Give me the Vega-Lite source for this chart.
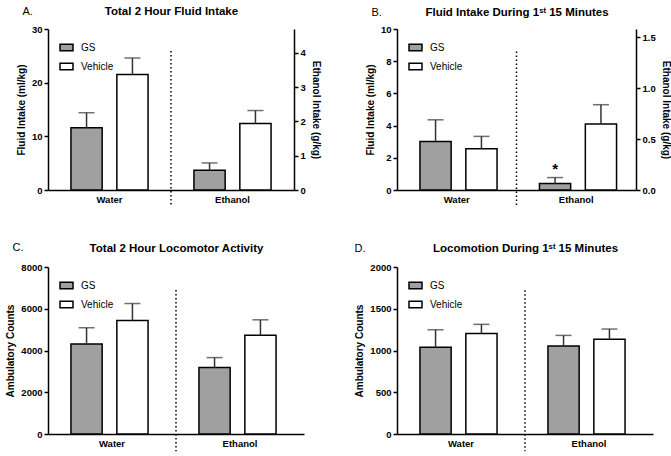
{
  "$schema": "https://vega.github.io/schema/vega-lite/v6.json",
  "padding": {"left": 5, "top": 5, "right": 0, "bottom": 0},
  "config": {
    "font": "Liberation Sans",
    "view": {"stroke": null},
    "axis": {"domainColor": "black", "domainWidth": 1.5, "tickColor": "black", "tickWidth": 1.5, "tickSize": 4, "labelFont": "Liberation Sans", "labelFontWeight": "bold", "labelFontSize": 9.5, "labelColor": "black", "titleFont": "Liberation Sans", "titleFontWeight": "bold", "titleFontSize": 10, "titleColor": "black", "grid": false, "labelPadding": 2, "titlePadding": 5},
    "axisX": {"ticks": false, "labelPadding": 4, "labelAngle": 0, "labelAlign": "center", "labelBaseline": "top"},
    "legend": {"orient": "top-left", "offset": 11, "symbolType": "M-1,-0.5H1V0.5H-1Z", "symbolSize": 169, "symbolStrokeColor": "black", "symbolStrokeWidth": 1.5, "labelFont": "Liberation Sans", "labelFontSize": 10, "labelColor": "black", "rowPadding": 5, "labelOffset": 7, "padding": 0}
  },
  "datasets": {
    "A": [
      {"solution": "Water", "treatment": "GS", "mean": 11.6, "upper": 14.4},
      {"solution": "Water", "treatment": "Vehicle", "mean": 21.5, "upper": 24.6},
      {"solution": "Ethanol", "treatment": "GS", "mean": 0.58, "upper": 0.79},
      {"solution": "Ethanol", "treatment": "Vehicle", "mean": 1.94, "upper": 2.32}
    ],
    "B": [
      {"solution": "Water", "treatment": "GS", "mean": 3.02, "upper": 4.36},
      {"solution": "Water", "treatment": "Vehicle", "mean": 2.56, "upper": 3.33},
      {"solution": "Ethanol", "treatment": "GS", "mean": 0.063, "upper": 0.122, "sig": "*"},
      {"solution": "Ethanol", "treatment": "Vehicle", "mean": 0.648, "upper": 0.837}
    ],
    "C": [
      {"solution": "Water", "treatment": "GS", "mean": 4310, "upper": 5090},
      {"solution": "Water", "treatment": "Vehicle", "mean": 5440, "upper": 6250},
      {"solution": "Ethanol", "treatment": "GS", "mean": 3180, "upper": 3660},
      {"solution": "Ethanol", "treatment": "Vehicle", "mean": 4725, "upper": 5470}
    ],
    "D": [
      {"solution": "Water", "treatment": "GS", "mean": 1038, "upper": 1248},
      {"solution": "Water", "treatment": "Vehicle", "mean": 1205, "upper": 1313},
      {"solution": "Ethanol", "treatment": "GS", "mean": 1054, "upper": 1181},
      {"solution": "Ethanol", "treatment": "Vehicle", "mean": 1134, "upper": 1257}
    ]
  },
  "columns": 2,
  "spacing": {"row": 77, "column": 93},
  "bounds": "flush",
  "align": "each",
  "resolve": {"scale": {"color": "independent"}, "legend": {"color": "independent"}},
  "concat": [
    {
      "width": 246, "height": 161,
      "data": {"name": "A"},
      "layer": [
        {
          "transform": [{"filter": "datum.solution === 'Water'"}],
          "layer": [
            {"mark": {"type": "bar", "stroke": "black", "strokeWidth": 1.5},
             "encoding": {
               "x": {"field": "solution", "type": "nominal", "scale": {"domain": ["Water", "Ethanol"], "paddingInner": 0, "paddingOuter": 0}, "axis": {"title": null, "orient": "bottom"}},
               "xOffset": {"field": "treatment", "type": "nominal", "scale": {"domain": ["GS", "Vehicle"], "paddingInner": 0.32, "paddingOuter": 0.5}},
               "y": {"field": "mean", "type": "quantitative", "scale": {"domain": [0, 30], "nice": false}, "axis": {"title": "Fluid Intake (ml/kg)", "values": [0, 10, 20, 30]}},
               "color": {"field": "treatment", "type": "nominal", "scale": {"domain": ["GS", "Vehicle"], "range": ["#a0a0a0", "#ffffff"]}, "legend": {"title": null}}
             }},
            {"mark": {"type": "rule", "color": "#333333", "strokeWidth": 1.5},
             "encoding": {
               "x": {"field": "solution", "type": "nominal", "scale": {"domain": ["Water", "Ethanol"], "paddingInner": 0, "paddingOuter": 0}, "axis": null},
               "xOffset": {"field": "treatment", "type": "nominal", "scale": {"domain": ["GS", "Vehicle"], "paddingInner": 0.32, "paddingOuter": 0.5}},
               "y": {"field": "mean", "type": "quantitative", "scale": {"domain": [0, 30], "nice": false}, "axis": {"title": "Fluid Intake (ml/kg)", "values": [0, 10, 20, 30]}},
               "y2": {"field": "upper"}
             }},
            {"mark": {"type": "tick", "color": "#333333", "thickness": 1.5, "size": 16},
             "encoding": {
               "x": {"field": "solution", "type": "nominal", "scale": {"domain": ["Water", "Ethanol"], "paddingInner": 0, "paddingOuter": 0}, "axis": {"orient": "top", "title": "A.", "labels": false, "ticks": false, "domain": false, "titleAnchor": "start", "titleAlign": "left", "titleX": -26, "titleY": -15, "titleBaseline": "alphabetic", "titleFontWeight": "normal", "titleFontSize": 11}},
               "xOffset": {"field": "treatment", "type": "nominal", "scale": {"domain": ["GS", "Vehicle"], "paddingInner": 0.32, "paddingOuter": 0.5}},
               "y": {"field": "upper", "type": "quantitative", "scale": {"domain": [0, 30], "nice": false}, "axis": {"title": "Fluid Intake (ml/kg)", "values": [0, 10, 20, 30]}}
             }}
          ],
          "resolve": {"axis": {"x": "independent"}}
        },
        {
          "transform": [{"filter": "datum.solution === 'Ethanol'"}],
          "layer": [
            {"mark": {"type": "bar", "stroke": "black", "strokeWidth": 1.5},
             "encoding": {
               "x": {"field": "solution", "type": "nominal", "scale": {"domain": ["Water", "Ethanol"], "paddingInner": 0, "paddingOuter": 0}, "axis": null},
               "xOffset": {"field": "treatment", "type": "nominal", "scale": {"domain": ["GS", "Vehicle"], "paddingInner": 0.32, "paddingOuter": 0.5}},
               "y": {"field": "mean", "type": "quantitative", "scale": {"domain": [0, 4.7], "nice": false}, "axis": {"orient": "right", "title": "Ethanol Intake (g/kg)", "titleAngle": 90, "values": [0, 1, 2, 3, 4]}},
               "color": {"field": "treatment", "type": "nominal", "scale": {"domain": ["GS", "Vehicle"], "range": ["#a0a0a0", "#ffffff"]}, "legend": {"title": null}}
             }},
            {"mark": {"type": "rule", "color": "#333333", "strokeWidth": 1.5},
             "encoding": {
               "x": {"field": "solution", "type": "nominal", "scale": {"domain": ["Water", "Ethanol"], "paddingInner": 0, "paddingOuter": 0}, "axis": null},
               "xOffset": {"field": "treatment", "type": "nominal", "scale": {"domain": ["GS", "Vehicle"], "paddingInner": 0.32, "paddingOuter": 0.5}},
               "y": {"field": "mean", "type": "quantitative", "scale": {"domain": [0, 4.7], "nice": false}, "axis": {"orient": "right", "title": "Ethanol Intake (g/kg)", "titleAngle": 90, "values": [0, 1, 2, 3, 4]}},
               "y2": {"field": "upper"}
             }},
            {"mark": {"type": "tick", "color": "#333333", "thickness": 1.5, "size": 16},
             "encoding": {
               "x": {"field": "solution", "type": "nominal", "scale": {"domain": ["Water", "Ethanol"], "paddingInner": 0, "paddingOuter": 0}, "axis": null},
               "xOffset": {"field": "treatment", "type": "nominal", "scale": {"domain": ["GS", "Vehicle"], "paddingInner": 0.32, "paddingOuter": 0.5}},
               "y": {"field": "upper", "type": "quantitative", "scale": {"domain": [0, 4.7], "nice": false}, "axis": {"orient": "right", "title": "Ethanol Intake (g/kg)", "titleAngle": 90, "values": [0, 1, 2, 3, 4]}}
             }}
          ]
        },
        {
          "data": {"values": [{"solution": "Ethanol"}]},
          "mark": {"type": "rule", "strokeDash": [1.5, 2.5], "strokeWidth": 1.5, "color": "black"},
          "encoding": {
            "x": {"field": "solution", "type": "nominal", "bandPosition": 0, "scale": {"domain": ["Water", "Ethanol"], "paddingInner": 0, "paddingOuter": 0}, "axis": {"orient": "top", "title": "Total 2 Hour Fluid Intake", "labels": false, "ticks": false, "domain": false, "titleFontSize": 11.5, "titleY": -15, "titleBaseline": "alphabetic"}},
            "y": {"datum": 25.9, "type": "quantitative", "scale": {"domain": [0, 30], "nice": false}, "axis": null},
            "y2": {"datum": -3.1}
          }
        }
      ],
      "resolve": {"scale": {"y": "independent"}, "axis": {"x": "independent"}}
    },
    {
      "width": 239, "height": 161,
      "data": {"name": "B"},
      "layer": [
        {
          "transform": [{"filter": "datum.solution === 'Water'"}],
          "layer": [
            {"mark": {"type": "bar", "stroke": "black", "strokeWidth": 1.5},
             "encoding": {
               "x": {"field": "solution", "type": "nominal", "scale": {"domain": ["Water", "Ethanol"], "paddingInner": 0, "paddingOuter": 0}, "axis": {"title": null, "orient": "bottom"}},
               "xOffset": {"field": "treatment", "type": "nominal", "scale": {"domain": ["GS", "Vehicle"], "paddingInner": 0.32, "paddingOuter": 0.5}},
               "y": {"field": "mean", "type": "quantitative", "scale": {"domain": [0, 10], "nice": false}, "axis": {"title": "Fluid Intake (ml/kg)", "values": [0, 2, 4, 6, 8, 10]}},
               "color": {"field": "treatment", "type": "nominal", "scale": {"domain": ["GS", "Vehicle"], "range": ["#a0a0a0", "#ffffff"]}, "legend": {"title": null}}
             }},
            {"mark": {"type": "rule", "color": "#333333", "strokeWidth": 1.5},
             "encoding": {
               "x": {"field": "solution", "type": "nominal", "scale": {"domain": ["Water", "Ethanol"], "paddingInner": 0, "paddingOuter": 0}, "axis": null},
               "xOffset": {"field": "treatment", "type": "nominal", "scale": {"domain": ["GS", "Vehicle"], "paddingInner": 0.32, "paddingOuter": 0.5}},
               "y": {"field": "mean", "type": "quantitative", "scale": {"domain": [0, 10], "nice": false}, "axis": {"title": "Fluid Intake (ml/kg)", "values": [0, 2, 4, 6, 8, 10]}},
               "y2": {"field": "upper"}
             }},
            {"mark": {"type": "tick", "color": "#333333", "thickness": 1.5, "size": 16},
             "encoding": {
               "x": {"field": "solution", "type": "nominal", "scale": {"domain": ["Water", "Ethanol"], "paddingInner": 0, "paddingOuter": 0}, "axis": {"orient": "top", "title": "B.", "labels": false, "ticks": false, "domain": false, "titleAnchor": "start", "titleAlign": "left", "titleX": -26, "titleY": -14, "titleBaseline": "alphabetic", "titleFontWeight": "normal", "titleFontSize": 11}},
               "xOffset": {"field": "treatment", "type": "nominal", "scale": {"domain": ["GS", "Vehicle"], "paddingInner": 0.32, "paddingOuter": 0.5}},
               "y": {"field": "upper", "type": "quantitative", "scale": {"domain": [0, 10], "nice": false}, "axis": {"title": "Fluid Intake (ml/kg)", "values": [0, 2, 4, 6, 8, 10]}}
             }}
          ],
          "resolve": {"axis": {"x": "independent"}}
        },
        {
          "transform": [{"filter": "datum.solution === 'Ethanol'"}],
          "layer": [
            {"mark": {"type": "bar", "stroke": "black", "strokeWidth": 1.5},
             "encoding": {
               "x": {"field": "solution", "type": "nominal", "scale": {"domain": ["Water", "Ethanol"], "paddingInner": 0, "paddingOuter": 0}, "axis": null},
               "xOffset": {"field": "treatment", "type": "nominal", "scale": {"domain": ["GS", "Vehicle"], "paddingInner": 0.32, "paddingOuter": 0.5}},
               "y": {"field": "mean", "type": "quantitative", "scale": {"domain": [0, 1.58], "nice": false}, "axis": {"orient": "right", "title": "Ethanol  Intake (g/kg)", "titleAngle": 90, "values": [0, 0.5, 1, 1.5], "format": ".1f"}},
               "color": {"field": "treatment", "type": "nominal", "scale": {"domain": ["GS", "Vehicle"], "range": ["#a0a0a0", "#ffffff"]}, "legend": {"title": null}}
             }},
            {"mark": {"type": "rule", "color": "#333333", "strokeWidth": 1.5},
             "encoding": {
               "x": {"field": "solution", "type": "nominal", "scale": {"domain": ["Water", "Ethanol"], "paddingInner": 0, "paddingOuter": 0}, "axis": null},
               "xOffset": {"field": "treatment", "type": "nominal", "scale": {"domain": ["GS", "Vehicle"], "paddingInner": 0.32, "paddingOuter": 0.5}},
               "y": {"field": "mean", "type": "quantitative", "scale": {"domain": [0, 1.58], "nice": false}, "axis": {"orient": "right", "title": "Ethanol  Intake (g/kg)", "titleAngle": 90, "values": [0, 0.5, 1, 1.5], "format": ".1f"}},
               "y2": {"field": "upper"}
             }},
            {"mark": {"type": "tick", "color": "#333333", "thickness": 1.5, "size": 16},
             "encoding": {
               "x": {"field": "solution", "type": "nominal", "scale": {"domain": ["Water", "Ethanol"], "paddingInner": 0, "paddingOuter": 0}, "axis": null},
               "xOffset": {"field": "treatment", "type": "nominal", "scale": {"domain": ["GS", "Vehicle"], "paddingInner": 0.32, "paddingOuter": 0.5}},
               "y": {"field": "upper", "type": "quantitative", "scale": {"domain": [0, 1.58], "nice": false}, "axis": {"orient": "right", "title": "Ethanol  Intake (g/kg)", "titleAngle": 90, "values": [0, 0.5, 1, 1.5], "format": ".1f"}}
             }},
            {"transform": [{"filter": "datum.sig"}],
             "mark": {"type": "text", "fontSize": 15, "fontWeight": "bold", "baseline": "alphabetic", "dy": -4, "color": "black"},
             "encoding": {
               "x": {"field": "solution", "type": "nominal", "scale": {"domain": ["Water", "Ethanol"], "paddingInner": 0, "paddingOuter": 0}, "axis": null},
               "xOffset": {"field": "treatment", "type": "nominal", "scale": {"domain": ["GS", "Vehicle"], "paddingInner": 0.32, "paddingOuter": 0.5}},
               "y": {"field": "upper", "type": "quantitative", "scale": {"domain": [0, 1.58], "nice": false}, "axis": {"orient": "right", "title": "Ethanol  Intake (g/kg)", "titleAngle": 90, "values": [0, 0.5, 1, 1.5], "format": ".1f"}},
               "text": {"field": "sig"}
             }}
          ]
        },
        {
          "data": {"values": [{"solution": "Ethanol"}]},
          "mark": {"type": "rule", "strokeDash": [1.5, 2.5], "strokeWidth": 1.5, "color": "black"},
          "encoding": {
            "x": {"field": "solution", "type": "nominal", "bandPosition": 0, "scale": {"domain": ["Water", "Ethanol"], "paddingInner": 0, "paddingOuter": 0}, "axis": {"orient": "top", "title": "Fluid Intake During 1ˢᵗ 15 Minutes", "labels": false, "ticks": false, "domain": false, "titleFontSize": 11.5, "titleY": -14, "titleBaseline": "alphabetic"}},
            "y": {"datum": 8.6, "type": "quantitative", "scale": {"domain": [0, 10], "nice": false}, "axis": null},
            "y2": {"datum": -0.95}
          }
        }
      ],
      "resolve": {"scale": {"y": "independent"}, "axis": {"x": "independent"}}
    },
    {
      "width": 256, "height": 167,
      "data": {"name": "C"},
      "layer": [
        {
          "layer": [
            {"mark": {"type": "bar", "stroke": "black", "strokeWidth": 1.5},
             "encoding": {
               "x": {"field": "solution", "type": "nominal", "scale": {"domain": ["Water", "Ethanol"], "paddingInner": 0, "paddingOuter": 0}, "axis": {"title": null, "orient": "bottom"}},
               "xOffset": {"field": "treatment", "type": "nominal", "scale": {"domain": ["GS", "Vehicle"], "paddingInner": 0.32, "paddingOuter": 0.5}},
               "y": {"field": "mean", "type": "quantitative", "scale": {"domain": [0, 8000], "nice": false}, "axis": {"title": "Ambulatory Counts", "values": [0, 2000, 4000, 6000, 8000], "format": "d"}},
               "color": {"field": "treatment", "type": "nominal", "scale": {"domain": ["GS", "Vehicle"], "range": ["#a0a0a0", "#ffffff"]}, "legend": {"title": null}}
             }},
            {"mark": {"type": "rule", "color": "#333333", "strokeWidth": 1.5},
             "encoding": {
               "x": {"field": "solution", "type": "nominal", "scale": {"domain": ["Water", "Ethanol"], "paddingInner": 0, "paddingOuter": 0}, "axis": null},
               "xOffset": {"field": "treatment", "type": "nominal", "scale": {"domain": ["GS", "Vehicle"], "paddingInner": 0.32, "paddingOuter": 0.5}},
               "y": {"field": "mean", "type": "quantitative", "scale": {"domain": [0, 8000], "nice": false}, "axis": {"title": "Ambulatory Counts", "values": [0, 2000, 4000, 6000, 8000], "format": "d"}},
               "y2": {"field": "upper"}
             }},
            {"mark": {"type": "tick", "color": "#333333", "thickness": 1.5, "size": 16},
             "encoding": {
               "x": {"field": "solution", "type": "nominal", "scale": {"domain": ["Water", "Ethanol"], "paddingInner": 0, "paddingOuter": 0}, "axis": {"orient": "top", "title": "C.", "labels": false, "ticks": false, "domain": false, "titleAnchor": "start", "titleAlign": "left", "titleX": -36, "titleY": -17, "titleBaseline": "alphabetic", "titleFontWeight": "normal", "titleFontSize": 11}},
               "xOffset": {"field": "treatment", "type": "nominal", "scale": {"domain": ["GS", "Vehicle"], "paddingInner": 0.32, "paddingOuter": 0.5}},
               "y": {"field": "upper", "type": "quantitative", "scale": {"domain": [0, 8000], "nice": false}, "axis": {"title": "Ambulatory Counts", "values": [0, 2000, 4000, 6000, 8000], "format": "d"}}
             }}
          ],
          "resolve": {"axis": {"x": "independent"}}
        },
        {
          "data": {"values": [{"solution": "Ethanol"}]},
          "mark": {"type": "rule", "strokeDash": [1.5, 2.5], "strokeWidth": 1.5, "color": "black"},
          "encoding": {
            "x": {"field": "solution", "type": "nominal", "bandPosition": 0, "scale": {"domain": ["Water", "Ethanol"], "paddingInner": 0, "paddingOuter": 0}, "axis": {"orient": "top", "title": "Total 2 Hour Locomotor Activity", "labels": false, "ticks": false, "domain": false, "titleFontSize": 11.5, "titleY": -16, "titleBaseline": "alphabetic"}},
            "y": {"datum": 6900, "type": "quantitative", "scale": {"domain": [0, 8000], "nice": false}, "axis": null},
            "y2": {"datum": -830}
          }
        }
      ],
      "resolve": {"scale": {"y": "independent"}, "axis": {"x": "independent"}}
    },
    {
      "width": 256, "height": 167,
      "data": {"name": "D"},
      "layer": [
        {
          "layer": [
            {"mark": {"type": "bar", "stroke": "black", "strokeWidth": 1.5},
             "encoding": {
               "x": {"field": "solution", "type": "nominal", "scale": {"domain": ["Water", "Ethanol"], "paddingInner": 0, "paddingOuter": 0}, "axis": {"title": null, "orient": "bottom"}},
               "xOffset": {"field": "treatment", "type": "nominal", "scale": {"domain": ["GS", "Vehicle"], "paddingInner": 0.32, "paddingOuter": 0.5}},
               "y": {"field": "mean", "type": "quantitative", "scale": {"domain": [0, 2000], "nice": false}, "axis": {"title": "Ambulatory Counts", "values": [0, 500, 1000, 1500, 2000], "format": "d"}},
               "color": {"field": "treatment", "type": "nominal", "scale": {"domain": ["GS", "Vehicle"], "range": ["#a0a0a0", "#ffffff"]}, "legend": {"title": null}}
             }},
            {"mark": {"type": "rule", "color": "#333333", "strokeWidth": 1.5},
             "encoding": {
               "x": {"field": "solution", "type": "nominal", "scale": {"domain": ["Water", "Ethanol"], "paddingInner": 0, "paddingOuter": 0}, "axis": null},
               "xOffset": {"field": "treatment", "type": "nominal", "scale": {"domain": ["GS", "Vehicle"], "paddingInner": 0.32, "paddingOuter": 0.5}},
               "y": {"field": "mean", "type": "quantitative", "scale": {"domain": [0, 2000], "nice": false}, "axis": {"title": "Ambulatory Counts", "values": [0, 500, 1000, 1500, 2000], "format": "d"}},
               "y2": {"field": "upper"}
             }},
            {"mark": {"type": "tick", "color": "#333333", "thickness": 1.5, "size": 16},
             "encoding": {
               "x": {"field": "solution", "type": "nominal", "scale": {"domain": ["Water", "Ethanol"], "paddingInner": 0, "paddingOuter": 0}, "axis": {"orient": "top", "title": "D.", "labels": false, "ticks": false, "domain": false, "titleAnchor": "start", "titleAlign": "left", "titleX": -43, "titleY": -16, "titleBaseline": "alphabetic", "titleFontWeight": "normal", "titleFontSize": 11}},
               "xOffset": {"field": "treatment", "type": "nominal", "scale": {"domain": ["GS", "Vehicle"], "paddingInner": 0.32, "paddingOuter": 0.5}},
               "y": {"field": "upper", "type": "quantitative", "scale": {"domain": [0, 2000], "nice": false}, "axis": {"title": "Ambulatory Counts", "values": [0, 500, 1000, 1500, 2000], "format": "d"}}
             }}
          ],
          "resolve": {"axis": {"x": "independent"}}
        },
        {
          "data": {"values": [{"solution": "Ethanol"}]},
          "mark": {"type": "rule", "strokeDash": [1.5, 2.5], "strokeWidth": 1.5, "color": "black"},
          "encoding": {
            "x": {"field": "solution", "type": "nominal", "bandPosition": 0, "scale": {"domain": ["Water", "Ethanol"], "paddingInner": 0, "paddingOuter": 0}, "axis": {"orient": "top", "title": "Locomotion During 1ˢᵗ 15 Minutes", "labels": false, "ticks": false, "domain": false, "titleFontSize": 11.5, "titleY": -16, "titleBaseline": "alphabetic"}},
            "y": {"datum": 1722, "type": "quantitative", "scale": {"domain": [0, 2000], "nice": false}, "axis": null},
            "y2": {"datum": -208}
          }
        }
      ],
      "resolve": {"scale": {"y": "independent"}, "axis": {"x": "independent"}}
    }
  ]
}
